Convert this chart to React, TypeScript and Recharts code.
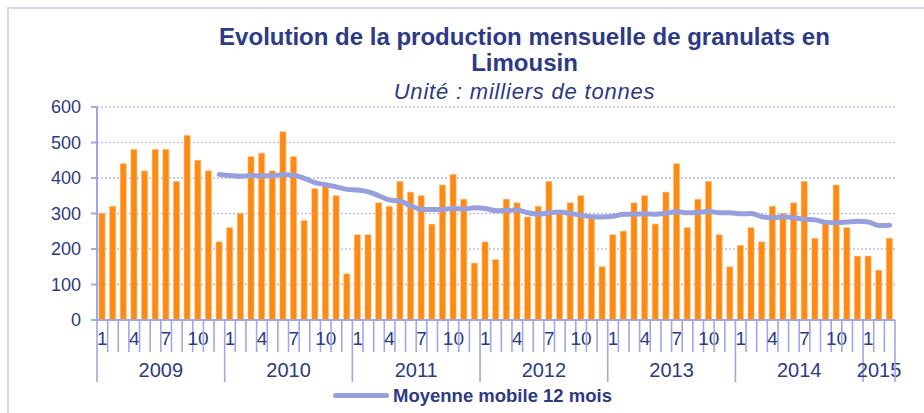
import React from 'react';
import { Bar, CartesianGrid, ComposedChart, Line, XAxis, YAxis } from 'recharts';

// monthly production, thousands of tonnes
const years = [2009, 2010, 2011, 2012, 2013, 2014, 2015];
const production: number[][] = [
    [300, 320, 440, 480, 420, 480, 480, 390, 520, 450, 420, 220],
    [260, 300, 460, 470, 420, 530, 460, 280, 370, 380, 350, 130],
    [240, 240, 330, 320, 390, 360, 350, 270, 380, 410, 340, 160],
    [220, 170, 340, 330, 290, 320, 390, 300, 330, 350, 290, 150],
    [240, 250, 330, 350, 270, 360, 440, 260, 340, 390, 240, 150],
    [210, 260, 220, 320, 300, 330, 390, 230, 270, 380, 260, 180],
    [180, 140, 230]
];
// 12 month moving average
const movingAvg: (number | null)[][] = [
    [null, null, null, null, null, null, null, null, null, null, null, 410],
    [407, 405, 407, 406, 406, 410, 408, 399, 387, 381, 375, 368],
    [366, 361, 350, 338, 335, 321, 312, 311, 312, 314, 313, 316],
    [314, 308, 309, 310, 302, 298, 302, 304, 300, 295, 291, 290],
    [292, 298, 298, 299, 298, 301, 305, 302, 303, 306, 302, 302],
    [299, 300, 291, 288, 291, 288, 284, 282, 275, 274, 276, 278],
    [276, 266, 267]
];
const labelledMonths = [1, 4, 7, 10];
const yTicks = [0, 100, 200, 300, 400, 500, 600];

const NAVY = '#2D3A85';
const AXIS = '#A0A7E2';
const FONT = '"Liberation Sans", Arial, sans-serif';

const rows = years.flatMap((year, yi) =>
    production[yi].map((value, mi) => ({
        key: `${year}-${mi + 1}`,
        year,
        month: mi + 1,
        count: production[yi].length,
        prod: value,
        avg: movingAvg[yi][mi]
    }))
);
const rowByKey = new Map(rows.map((r) => [r.key, r]));

const PLOT_WIDTH = 798;
const BAND = PLOT_WIDTH / rows.length;

const MonthTick = (props: any) => {
    const { x, y, payload } = props;
    const row = rowByKey.get(payload.value);
    if (!row) return <g />;
    const left = x - BAND / 2;
    const isLast = row.key === rows[rows.length - 1].key;
    return (
        <g>
            <line x1={left} x2={left} y1={y} y2={y + (row.month === 1 ? 62 : 32)} stroke={AXIS} strokeWidth={1.6} />
            {isLast && <line x1={x + BAND / 2} x2={x + BAND / 2} y1={y} y2={y + 62} stroke={AXIS} strokeWidth={1.6} />}
            {labelledMonths.includes(row.month) && (
                <text x={x} y={y + 25} textAnchor="middle" fontSize={19} fill={NAVY} fontFamily={FONT}>
                    {row.month}
                </text>
            )}
            {row.month === 1 && (
                <text x={left + (row.count * BAND) / 2} y={y + 57} textAnchor="middle" fontSize={20} fill={NAVY} fontFamily={FONT}>
                    {row.year}
                </text>
            )}
        </g>
    );
};

export default function App() {
    return (
        <div style={{ position: 'fixed', left: 0, top: 0, width: 924, height: 413, background: '#fff', overflow: 'hidden', fontFamily: FONT }}>
            <div style={{ position: 'absolute', left: 7, top: 7, width: 940, height: 430, border: '2px solid #D3D8F0' }} />
            <div style={{ position: 'absolute', left: 0, width: 1049, top: 24, textAlign: 'center', color: NAVY, fontWeight: 'bold', fontSize: 24, lineHeight: '26px' }}>
                Evolution de la production mensuelle de granulats en
                <br />
                Limousin
            </div>
            <div style={{ position: 'absolute', left: 0, width: 1049, top: 79, textAlign: 'center', color: NAVY, fontStyle: 'italic', fontSize: 22, letterSpacing: 0.8, lineHeight: '26px' }}>
                Unité : milliers de tonnes
            </div>
            <div style={{ position: 'absolute', left: 0, top: 0 }}>
                <ComposedChart width={924} height={413} data={rows} margin={{ top: 107, right: 29, bottom: 0, left: 0 }}>
                    <CartesianGrid vertical={false} stroke="#B8BDEA" strokeDasharray="2 2" strokeWidth={1.5} />
                    <XAxis
                        dataKey="key"
                        interval={0}
                        height={93}
                        tickSize={0}
                        tickMargin={0}
                        axisLine={{ stroke: AXIS, strokeWidth: 2 }}
                        tickLine={false}
                        tick={(p: any) => <MonthTick {...p} />}
                    />
                    <YAxis
                        width={97}
                        domain={[0, 600]}
                        ticks={yTicks}
                        interval={0}
                        tickSize={6}
                        tickMargin={10}
                        axisLine={{ stroke: AXIS, strokeWidth: 2 }}
                        tickLine={{ stroke: AXIS, strokeWidth: 2 }}
                        tick={{ fill: NAVY, fontSize: 18, fontFamily: FONT }}
                    />
                    <Bar dataKey="prod" fill="#FF8A12" stroke="#FFB060" strokeWidth={0.5} barSize={6} isAnimationActive={false} />
                    <Line
                        dataKey="avg"
                        type="monotone"
                        stroke="#97A0DC"
                        strokeWidth={5}
                        strokeLinecap="round"
                        dot={false}
                        activeDot={false}
                        isAnimationActive={false}
                    />
                </ComposedChart>
            </div>
            <div style={{ position: 'absolute', left: 333, top: 393, width: 56, height: 5, borderRadius: 3, background: '#97A0DC' }} />
            <div style={{ position: 'absolute', left: 393, top: 385, color: NAVY, fontWeight: 'bold', fontSize: 18.5, lineHeight: '22px', whiteSpace: 'nowrap' }}>
                Moyenne mobile 12 mois
            </div>
        </div>
    );
}
